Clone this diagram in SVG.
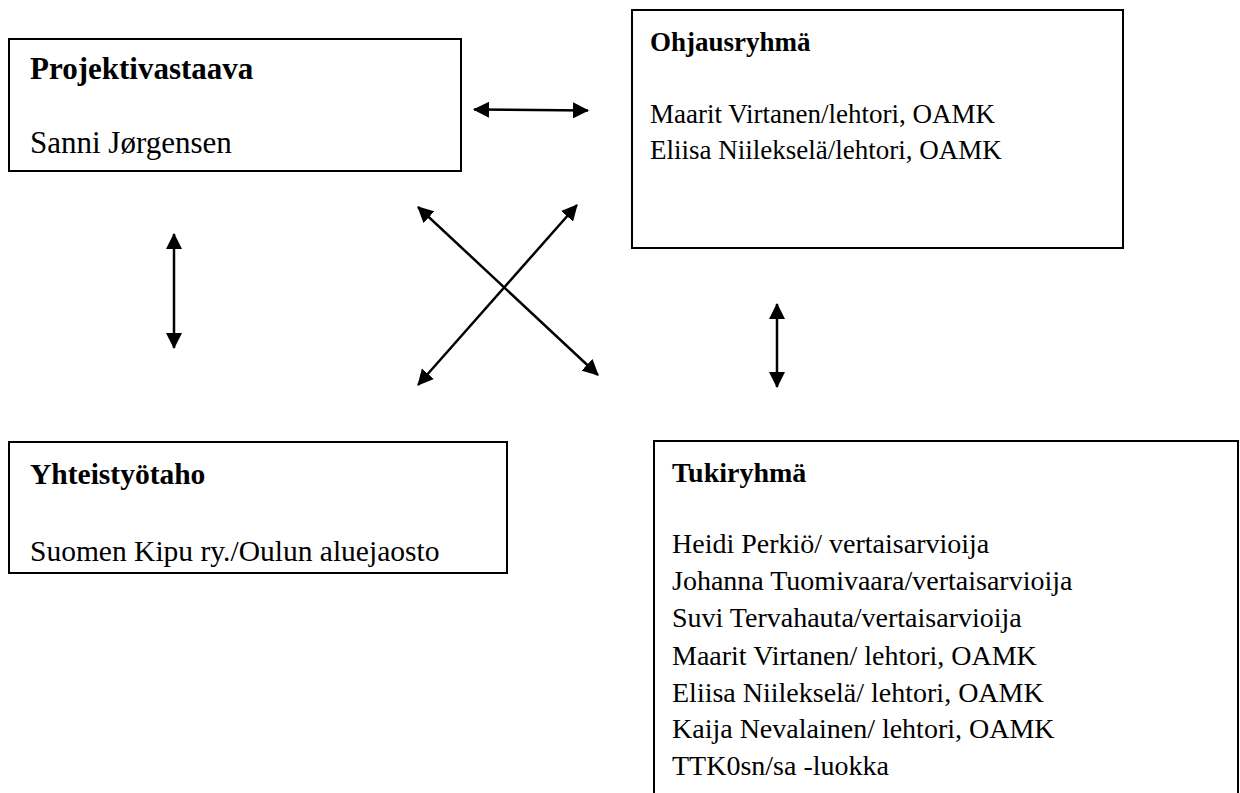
<svg xmlns="http://www.w3.org/2000/svg" width="1240" height="793" viewBox="0 0 1240 793">
<defs>
<marker id="ah" viewBox="0 0 16 16" refX="15" refY="8" markerWidth="16" markerHeight="16" markerUnits="userSpaceOnUse" orient="auto-start-reverse">
<path d="M0,0 L16,8 L0,16 z" fill="#000"/>
</marker>
<style>
.box{fill:#fff;stroke:#000;stroke-width:2}
.t{font-family:"Liberation Serif","Times New Roman",serif;font-size:27px;fill:#000}
.l1{font-size:31px}
.l3{font-size:29.5px}
.r4{font-size:28px}
.b{font-weight:bold}
.c{stroke:#000;stroke-width:2.5;fill:none;marker-start:url(#ah);marker-end:url(#ah)}
</style>
</defs>
<rect width="1240" height="793" fill="#fff"/>
<g id="projektivastaava">
<rect class="box" x="9" y="39" width="452" height="132"/>
<text class="t l1 b" x="30" y="79">Projektivastaava</text>
<text class="t l1" x="30" y="153">Sanni Jørgensen</text>
</g>
<g id="ohjausryhma">
<rect class="box" x="632" y="10" width="491" height="238"/>
<text class="t b" x="650" y="51">Ohjausryhmä</text>
<text class="t" x="650" y="123">Maarit Virtanen/lehtori, OAMK</text>
<text class="t" x="650" y="159">Eliisa Niilekselä/lehtori, OAMK</text>
</g>
<g id="yhteistyotaho">
<rect class="box" x="9" y="442" width="498" height="131"/>
<text class="t l3 b" x="30" y="484">Yhteistyötaho</text>
<text class="t l3" x="30" y="561">Suomen Kipu ry./Oulun aluejaosto</text>
</g>
<g id="tukiryhma">
<rect class="box" x="654" y="441" width="584" height="380"/>
<text class="t r4 b" x="672" y="482">Tukiryhmä</text>
<text class="t r4" x="672" y="553">Heidi Perkiö/ vertaisarvioija</text>
<text class="t r4" x="672" y="590">Johanna Tuomivaara/vertaisarvioija</text>
<text class="t r4" x="672" y="627">Suvi Tervahauta/vertaisarvioija</text>
<text class="t r4" x="672" y="665">Maarit Virtanen/ lehtori, OAMK</text>
<text class="t r4" x="672" y="702">Eliisa Niilekselä/ lehtori, OAMK</text>
<text class="t r4" x="672" y="738">Kaija Nevalainen/ lehtori, OAMK</text>
<text class="t r4" x="672" y="775">TTK0sn/sa -luokka</text>
</g>
<g id="connectors">
<line class="c" x1="474" y1="109.5" x2="588" y2="110.5"/>
<line class="c" x1="174" y1="234" x2="174" y2="348"/>
<line class="c" x1="418" y1="207" x2="598" y2="375"/>
<line class="c" x1="577" y1="205" x2="418" y2="385"/>
<line class="c" x1="777" y1="304" x2="777" y2="387"/>
</g>
</svg>
